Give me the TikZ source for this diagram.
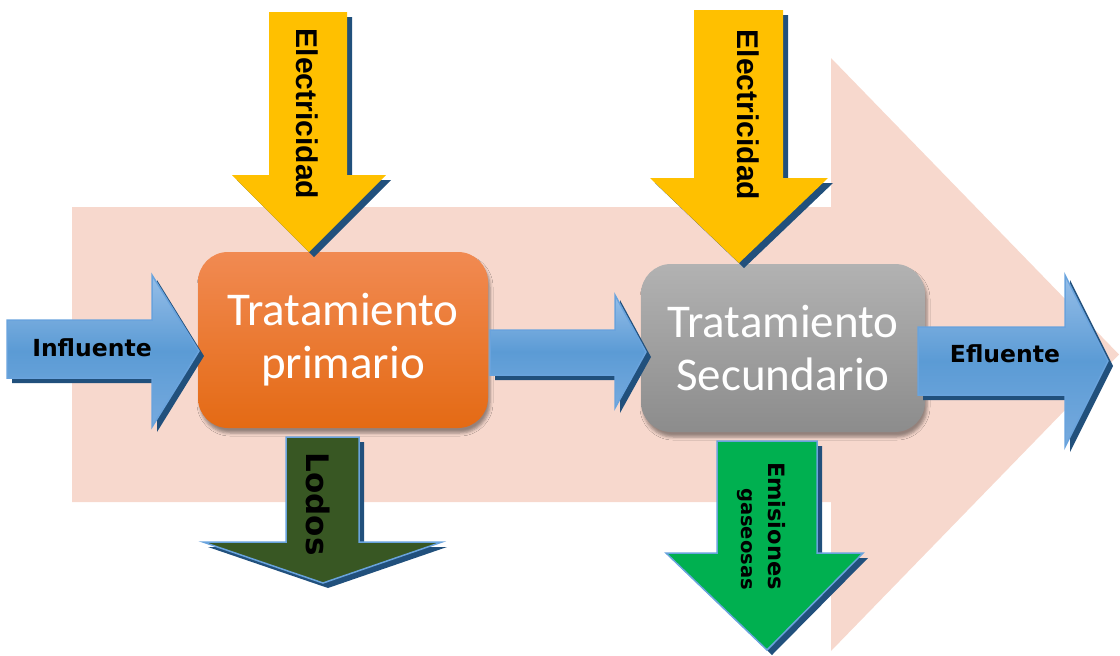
\documentclass[tikz,border=0pt]{standalone}
\usepackage{fontspec}
\setmainfont{Carlito}
\newfontfamily\dvs{DejaVu Sans}
\newfontfamily\las{Liberation Sans}[BoldFont={Liberation Sans Bold}]
\usetikzlibrary{shadows.blur}
\definecolor{pinkbg}{RGB}{247,216,205}
\definecolor{navy}{RGB}{33,80,124}
\definecolor{bluetop}{RGB}{150,190,232}
\definecolor{bluemid}{RGB}{91,155,213}
\definecolor{bluebot}{RGB}{118,170,222}
\definecolor{blueedge}{RGB}{105,163,221}
\definecolor{elecyellow}{RGB}{255,192,0}
\definecolor{sludge}{RGB}{56,87,35}
\definecolor{gasgreen}{RGB}{0,176,80}
\definecolor{orangetop}{RGB}{241,138,82}
\definecolor{orangebot}{RGB}{228,106,20}
\definecolor{graytop}{RGB}{178,178,178}
\definecolor{graybot}{RGB}{140,140,140}
\tikzset{
  procbox/.style={rounded corners=30pt, inner sep=0pt, align=center, text=white,
    font=\fontsize{47}{53}\selectfont,
    blur shadow={shadow xshift=2pt, shadow yshift=-5pt, shadow opacity=40, shadow blur radius=3pt}},
  bluearrow/.style={top color=bluetop, bottom color=bluebot, middle color=bluemid, draw=blueedge, line width=1.5pt, line join=miter},
  yellowarrow/.style={fill=elecyellow},
  sludgearrow/.style={fill=sludge, draw=blueedge, line width=1.5pt},
  gasarrow/.style={fill=gasgreen, draw=blueedge, line width=1.5pt},
  arrowshadow/.style={fill=navy, shift={(5,5)}},
  blabel/.style={inner sep=0pt, font=\dvs\bfseries\fontsize{23.5}{28}\selectfont},
  elabel/.style={inner sep=0pt, rotate=-90, font=\las\bfseries\fontsize{30}{34}\selectfont},
}
\newcommand\blockarrow[2]{\fill[arrowshadow] #2; \path[#1] #2;}
\begin{document}
\begin{tikzpicture}[x=1pt,y=-1pt]
\useasboundingbox (0,0) rectangle (1120,656);
% big background arrow
\fill[pinkbg] (72,207) -- (831,207) -- (831,58) -- (1119,354.5) -- (831,651) -- (831,502) -- (72,502) -- cycle;

% process boxes
\node[procbox, minimum width=290pt, minimum height=176pt, top color=orangetop, bottom color=orangebot] (prim) at (343,340) {Tratamiento\\primario};
\node[procbox, minimum width=284pt, minimum height=168pt, top color=graytop, bottom color=graybot] (sec) at (783,348) {Tratamiento\\Secundario};

% horizontal arrows
\blockarrow{bluearrow}{(7,320) -- (152,320) -- (152,275) -- (199,351) -- (152,427) -- (152,378) -- (7,378) -- cycle}
\blockarrow{bluearrow}{(490,330) -- (615,330) -- (615,295) -- (646,352) -- (615,408) -- (615,375) -- (490,375) -- cycle}
\blockarrow{bluearrow}{(918,327) -- (1065,327) -- (1065,275) -- (1108,361) -- (1065,447) -- (1065,395) -- (918,395) -- cycle}

% electricity arrows
\blockarrow{yellowarrow}{(269,12) -- (347,12) -- (347,175) -- (386,175) -- (309,252) -- (232,175) -- (269,175) -- cycle}
\blockarrow{yellowarrow}{(694,10) -- (783,10) -- (783,178) -- (828,178) -- (739,263) -- (650,178) -- (694,178) -- cycle}

% output arrows
\blockarrow{sludgearrow}{(286,437) -- (359,437) -- (359,542) -- (442,542) -- (323,583) -- (203,542) -- (286,542) -- cycle}
\blockarrow{gasarrow}{(717,441) -- (817,441) -- (817,553) -- (863,553) -- (767,650) -- (666,553) -- (717,553) -- cycle}

% labels
\node[blabel] (infl) at (92,348) {Influente};
\node[blabel] (efl) at (1005,354) {Efluente};
\node[elabel] (elec1) at (307,114) {Electricidad};
\node[elabel] (elec2) at (748,115) {Electricidad};
\node[inner sep=0pt, rotate=-90, font=\dvs\bfseries\fontsize{31}{36}\selectfont] (lodos) at (318,504) {Lodos};
\node[inner sep=0pt, rotate=-90, anchor=east, font=\dvs\bfseries\fontsize{22.5}{26}\selectfont] (emis) at (777,590) {Emisiones};
\node[inner sep=0pt, rotate=-90, anchor=east, font=\dvs\bfseries\fontsize{19.5}{24}\selectfont] (gas) at (745,590) {gaseosas};
\end{tikzpicture}
\end{document}
